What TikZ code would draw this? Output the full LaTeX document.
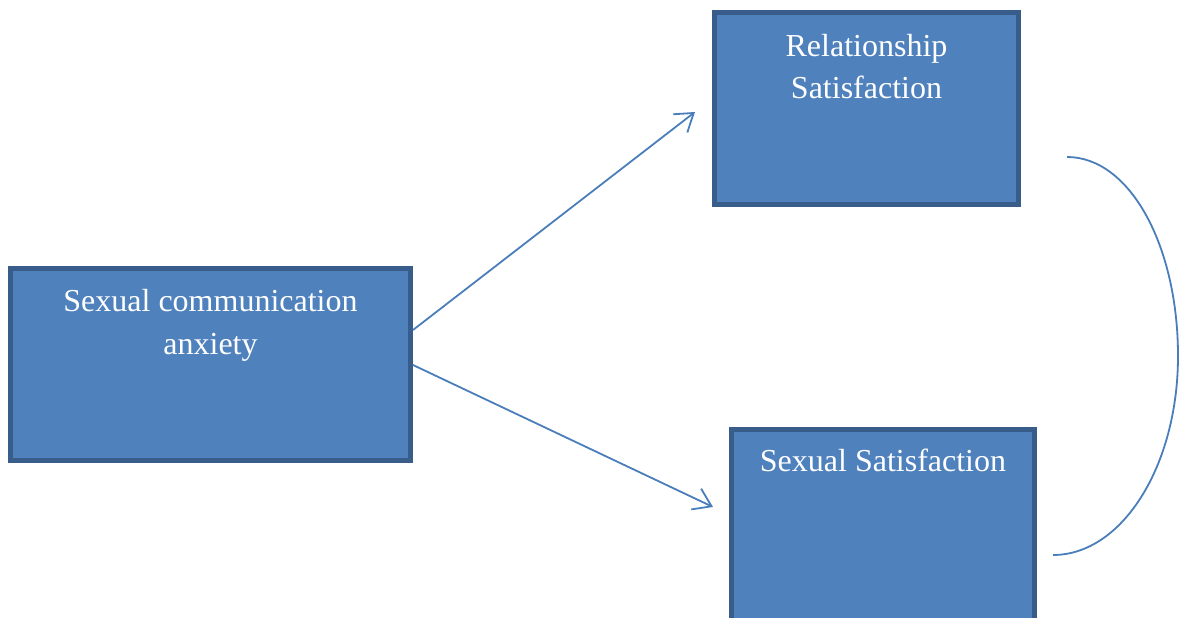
\documentclass[tikz,border=0pt]{standalone}
\usepackage{fontspec}
\setmainfont{Liberation Serif}
\usetikzlibrary{arrows.meta,calc}
\definecolor{boxfill}{HTML}{4F81BD}
\definecolor{boxline}{HTML}{385D8A}
\definecolor{linkcol}{HTML}{4A7EBB}
\begin{document}
\begin{tikzpicture}[x=1pt,y=1pt,
  box/.style={draw=boxline, fill=boxfill, line width=5pt, inner sep=0pt, outer sep=0pt, rectangle},
  boxtext/.style={text=white, align=center, inner sep=0pt, anchor=base,
    font=\fontsize{32}{43}\selectfont},
  link/.style={draw=linkcol, line width=1.8pt, -{Straight Barb[length=17pt,width=23pt,line width=1.8pt]}},
  corr/.style={draw=linkcol, line width=1.8pt}]
\useasboundingbox (0,0) rectangle (1181,618);
\begin{scope}
\clip (0,0) rectangle (1181,618);
% the three construct boxes
\node[box, minimum width=400pt, minimum height=192pt] (sca) at (210.5,253.5) {};
\node[box, minimum width=304pt, minimum height=192pt] (rel) at (866.5,509.5) {};
\node[box, minimum width=303pt, minimum height=192pt] (sex) at (883,92.5) {};
\end{scope}
% box titles
\node[boxtext] (scaA) at (210.5,306) {Sexual communication};
\node[boxtext] (scaB) at (210.5,263) {anxiety};
\node[boxtext] (relA) at (866.5,561) {Relationship};
\node[boxtext] (relB) at (866.5,519) {Satisfaction};
\node[boxtext] (sexA) at (883,146) {Sexual Satisfaction};
% arrow end points
\coordinate (s1) at ($(sca.east)+(2.5,34.5)$);
\coordinate (s2) at ($(sca.east)+(2.5,-0.5)$);
\coordinate (e1) at (695,506);
\coordinate (e2) at (713,111);
\draw[link] (s1) -- (e1);
\draw[link] (s2) -- (e2);
% correlation between the two outcomes
\coordinate (c1) at (1067,461);
\coordinate (c2) at (1053,63);
\draw[corr] (c1) .. controls (1130,461) and (1178,372) .. (1178,262)
  .. controls (1178,152) and (1122,63) .. (c2);
\end{tikzpicture}
\end{document}
